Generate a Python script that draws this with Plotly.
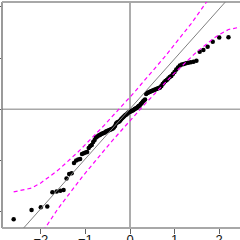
import plotly.graph_objects as go
from statistics import NormalDist

# Sorted sample values
sample_values = [
    -2.148, -1.967, -1.914, -1.898, -1.621, -1.605, -1.592, -1.576, -1.352, -1.264,
    -1.248, -1.049, -1.000, -0.980, -0.971, -0.873, -0.857, -0.844, -0.834, -0.756,
    -0.717, -0.697, -0.639, -0.600, -0.551, -0.531, -0.512, -0.502, -0.482, -0.473,
    -0.463, -0.453, -0.434, -0.424, -0.414, -0.404, -0.395, -0.385, -0.375, -0.355,
    -0.326, -0.277, -0.258, -0.248, -0.238, -0.219, -0.189, -0.170, -0.150, -0.131,
    -0.111, -0.102, -0.082, -0.063, -0.053, -0.043, -0.033, -0.023, -0.014, 0.006,
    0.016, 0.025, 0.045, 0.064, 0.074, 0.104, 0.123, 0.152, 0.172, 0.191,
    0.299, 0.318, 0.328, 0.338, 0.348, 0.357, 0.367, 0.377, 0.387, 0.396,
    0.406, 0.416, 0.426, 0.455, 0.494, 0.523, 0.553, 0.572, 0.602, 0.631,
    0.650, 0.689, 0.729, 0.777, 0.816, 0.855, 0.875, 0.885, 0.898, 0.908,
    0.918, 0.928, 0.949, 1.125, 1.158, 1.223, 1.320, 1.402, 1.406, 1.549,
]

ref_slope = 0.976
ref_intercept = 0.01
conf_level = 0.95

x_ticks = [-2, -1, 0, 1, 2]
x_tick_labels = ["\u22122", "\u22121", "0", "1", "2"]
y_ticks = [-2, -1, 0, 1, 2]

# QQ construction: theoretical normal quantiles (ppoints) and pointwise envelope
nd = NormalDist()
n = len(sample_values)
probs = [(i + 1 - 0.5) / n for i in range(n)]
theo = [nd.inv_cdf(p) for p in probs]
zz = nd.inv_cdf(1 - (1 - conf_level) / 2)
fit = [ref_intercept + ref_slope * z for z in theo]
se = [(ref_slope / nd.pdf(z)) * ((p * (1 - p) / n) ** 0.5) for z, p in zip(theo, probs)]
upper = [f + zz * s for f, s in zip(fit, se)]
lower = [f - zz * s for f, s in zip(fit, se)]

x_range = [-2.870, 2.466]
y_range = [-2.318, 2.096]

fig = go.Figure()
fig.add_trace(go.Scatter(x=theo, y=sample_values, mode="markers",
                         marker=dict(color="black", size=4.5, line=dict(width=0)),
                         hoverinfo="skip"))
fig.add_trace(go.Scatter(x=x_range, y=[ref_intercept + ref_slope * v for v in x_range],
                         mode="lines", line=dict(color="#808080", width=1),
                         hoverinfo="skip"))
for band in (upper, lower):
    fig.add_trace(go.Scatter(x=theo, y=band, mode="lines",
                             line=dict(color="#ff00ff", width=1.2, dash="4px,3px"),
                             hoverinfo="skip"))

shapes = [
    # reference lines at 0
    dict(type="line", xref="paper", yref="y", x0=0, x1=1, y0=0, y1=0,
         line=dict(color="#a8a8a8", width=1.6), layer="below"),
    dict(type="line", xref="x", yref="paper", x0=0, x1=0, y0=0, y1=1,
         line=dict(color="#5a5a5a", width=1), layer="below"),
    # frame (left, top, bottom)
    dict(type="line", xref="paper", yref="paper", x0=0, x1=0, y0=0, y1=1,
         line=dict(color="#707070", width=1.4), layer="below"),
    dict(type="line", xref="paper", yref="paper", x0=0, x1=1, y0=1, y1=1,
         line=dict(color="#a8a8a8", width=1.8), layer="below"),
    dict(type="line", xref="paper", yref="paper", x0=0, x1=1, y0=0, y1=0,
         line=dict(color="#a8a8a8", width=1.8), layer="below"),
]

fig.update_layout(
    width=240, height=240,
    margin=dict(l=2, r=0, t=2, b=12),
    paper_bgcolor="white", plot_bgcolor="white",
    showlegend=False,
    shapes=shapes,
    xaxis=dict(range=x_range, tickvals=x_ticks, ticktext=x_tick_labels,
               ticks="outside", ticklen=5, tickcolor="#606060", tickwidth=1,
               ticklabelstandoff=-6,
               showgrid=False, zeroline=False, showline=False, automargin=False,
               tickfont=dict(family="Liberation Sans, Arial, sans-serif", size=13, color="#111")),
    yaxis=dict(range=y_range, tickvals=y_ticks, ticks="outside", ticklen=2,
               tickcolor="#606060", tickwidth=1, showticklabels=False,
               showgrid=False, zeroline=False, showline=False, automargin=False),
)

fig.write_html("out.html", config={"displayModeBar": False},
               post_script="document.body.style.margin='0px';document.body.style.overflow='hidden';")
